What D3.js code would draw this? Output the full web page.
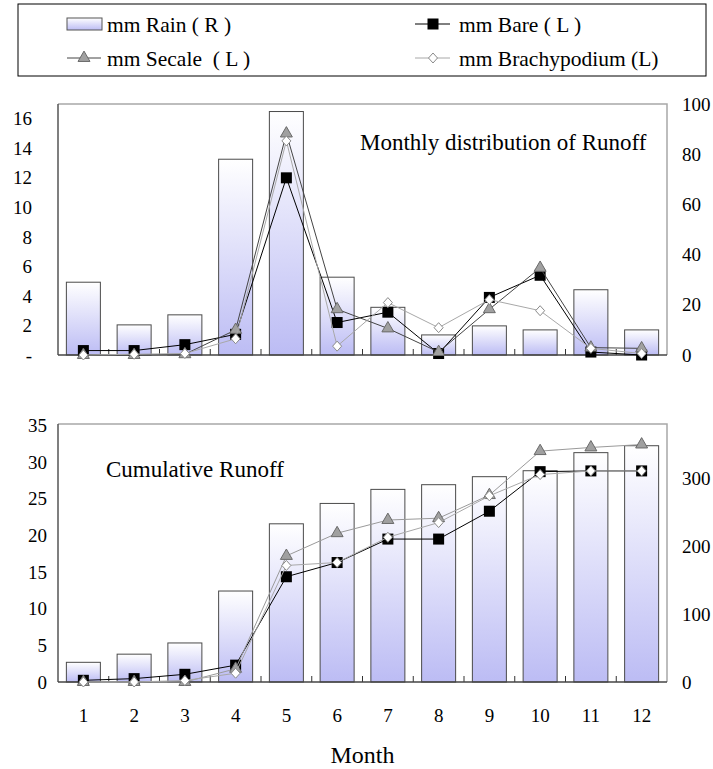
<!DOCTYPE html>
<html>
<head>
<meta charset="utf-8">
<script src="https://cdn.jsdelivr.net/npm/d3@7"></script>
<style>
  html, body { margin: 0; padding: 0; background: #fff; }
  svg { display: block; }
</style>
</head>
<body>
<svg id="chart" width="713" height="769"></svg>
<script>
// ---- data ----
const months = [1, 2, 3, 4, 5, 6, 7, 8, 9, 10, 11, 12];

// monthly values (mm)
const monthlyRain   = [29, 12, 16, 78, 97, 31, 19, 8, 11.6, 10, 26, 10];
const monthlyBare   = [0.3, 0.3, 0.7, 1.4, 12.0, 2.2, 2.9, 0.1, 3.9, 5.4, 0.2, 0.0];
const monthlySecale = [0.0, 0.0, 0.05, 1.7, 15.0, 3.1, 1.8, 0.2, 3.1, 5.9, 0.5, 0.45];
const monthlyBrachy = [0.0, 0.05, 0.1, 1.1, 14.5, 0.6, 3.55, 1.85, 3.75, 3.0, 0.45, 0.1];

// cumulative values (mm)
const cumRain   = [29, 41, 57.5, 134, 233, 263, 283.7, 290.6, 302.4, 311.2, 337.8, 348];
const cumBare   = [0.23, 0.46, 1.05, 2.3, 14.36, 16.3, 19.5, 19.5, 23.3, 28.7, 28.8, 28.8];
const cumSecale = [0, 0, 0, 1.8, 17.2, 20.3, 22.1, 22.35, 25.5, 31.5, 32.0, 32.4];
const cumBrachy = [0, 0, 0.2, 1.2, 15.9, 16.3, 19.75, 21.75, 25.4, 28.3, 28.8, 28.8];

// axis ticks
const topLeftTicks  = [0, 2, 4, 6, 8, 10, 12, 14, 16];
const topRightTicks = [0, 20, 40, 60, 80, 100];
const botLeftTicks  = [0, 5, 10, 15, 20, 25, 30, 35];
const botRightTicks = [0, 100, 200, 300];

// legend labels
const legendLabels = ["mm Rain ( R )", "mm Bare ( L )", "mm Secale\u00a0\u00a0( L )", "mm Brachypodium (L)"];

const FONT = "'Liberation Serif', serif";

// make sure the serif face is resolved before text is laid out
const probe = document.createElement("canvas").getContext("2d");
probe.font = "20px 'Liberation Serif', serif";
probe.measureText("Monthly distribution of Runoff");

const svg = d3.select("#chart");
const defs = svg.append("defs");

const grad = defs.append("linearGradient")
  .attr("id", "rainFill").attr("x1", 0).attr("y1", 0).attr("x2", 0).attr("y2", 1);
grad.append("stop").attr("offset", "0%").attr("stop-color", "#ffffff");
grad.append("stop").attr("offset", "100%").attr("stop-color", "#bcbcf4");

const plotLeft = 58, plotRight = 667;

const x = d3.scaleBand().domain(months).range([plotLeft, plotRight]).paddingInner(0.33).paddingOuter(0.165);
const xc = m => x(m) + x.bandwidth() / 2;

function label(sel) {
  return sel.attr("font-family", FONT).attr("fill", "#000");
}

// ---- marker shapes ----
function drawMarkers(g, xs, ys, kind) {
  if (kind === "square") {
    g.selectAll("rect.mk").data(xs).join("rect").attr("class", "mk")
      .attr("x", (d, i) => xs[i] - 5.5).attr("y", (d, i) => ys[i] - 5.5)
      .attr("width", 11).attr("height", 11).attr("fill", "#000");
  } else if (kind === "triangle") {
    const tri = d3.symbol().type(d3.symbolTriangle).size(62);
    g.selectAll("path.mk").data(xs).join("path").attr("class", "mk")
      .attr("d", tri)
      .attr("transform", (d, i) => `translate(${xs[i]},${ys[i]})`)
      .attr("fill", "#a0a0a0").attr("stroke", "#6a6a6a").attr("stroke-width", 1);
  } else {
    g.selectAll("path.mk").data(xs).join("path").attr("class", "mk")
      .attr("d", "M0,-5L4.5,0L0,5L-4.5,0Z")
      .attr("transform", (d, i) => `translate(${xs[i]},${ys[i]})`)
      .attr("fill", "#fff").attr("stroke", "#8a8a8a").attr("stroke-width", 1);
  }
}

function drawPanel(cfg) {
  const g = svg.append("g");
  const yL = d3.scaleLinear().domain(cfg.leftDomain).range([cfg.bottom, cfg.top]);
  const yR = d3.scaleLinear().domain(cfg.rightDomain).range([cfg.bottom, cfg.top]);

  // plot frame (top and right in light gray)
  g.append("path")
    .attr("d", `M${plotLeft},${cfg.top}H${plotRight}V${cfg.bottom}`)
    .attr("fill", "none").attr("stroke", "#a8a8a8").attr("stroke-width", 1.5);

  // rain bars on right axis
  g.append("g").selectAll("rect").data(months).join("rect")
    .attr("x", m => x(m))
    .attr("y", (m, i) => yR(cfg.rain[i]))
    .attr("width", x.bandwidth())
    .attr("height", (m, i) => cfg.bottom - yR(cfg.rain[i]))
    .attr("fill", "url(#rainFill)")
    .attr("stroke", "#4a4a4a").attr("stroke-width", 1);

  // category boundary ticks on x axis (pointing inward)
  const step = x.step();
  const bounds = d3.range(1, 12).map(k => plotLeft + k * step);
  g.append("g").selectAll("line").data(bounds).join("line")
    .attr("x1", d => d).attr("x2", d => d)
    .attr("y1", cfg.bottom).attr("y2", cfg.bottom - 6)
    .attr("stroke", "#333").attr("stroke-width", 1);

  // axes lines
  g.append("line").attr("x1", plotLeft).attr("x2", plotLeft)
    .attr("y1", cfg.top).attr("y2", cfg.bottom).attr("stroke", "#555").attr("stroke-width", 1.5);
  g.append("line").attr("x1", plotLeft).attr("x2", plotRight)
    .attr("y1", cfg.bottom).attr("y2", cfg.bottom).attr("stroke", "#444").attr("stroke-width", 1.5);

  // left axis labels
  g.append("g").selectAll("text").data(cfg.leftTicks).join("text")
    .call(label)
    .attr("x", cfg.leftLabelX).attr("y", d => yL(d)).attr("dy", "0.35em")
    .attr("text-anchor", "end").attr("font-size", 19)
    .text(d => cfg.leftFormat(d));

  // right axis labels
  g.append("g").selectAll("text").data(cfg.rightTicks).join("text")
    .call(label)
    .attr("x", 682).attr("y", d => yR(d)).attr("dy", "0.35em")
    .attr("text-anchor", "start").attr("font-size", 19)
    .text(d => d);

  // runoff series on left axis
  const xs = months.map(xc);
  const series = [
    { vals: cfg.bare, color: "#000", kind: "square" },
    { vals: cfg.secale, color: cfg.secaleColor, kind: "triangle" },
    { vals: cfg.brachy, color: "#a8a8a8", kind: "diamond" }
  ];
  series.forEach(s => {
    const ys = s.vals.map(v => yL(v));
    const line = d3.line().x((d, i) => xs[i]).y((d, i) => ys[i]);
    const sg = g.append("g");
    sg.append("path").datum(s.vals).attr("d", line)
      .attr("fill", "none").attr("stroke", s.color).attr("stroke-width", 1);
    drawMarkers(sg, xs, ys, s.kind);
  });

  // panel title
  g.append("text").call(label).attr("x", cfg.titleX).attr("y", cfg.titleY)
    .attr("font-size", 23).text(cfg.title);

  return g;
}

// monthly panel
drawPanel({
  top: 104, bottom: 355,
  leftDomain: [0, 17], rightDomain: [0, 100],
  leftTicks: topLeftTicks, rightTicks: topRightTicks,
  leftLabelX: 32, leftFormat: d => d === 0 ? "-" : d,
  rain: monthlyRain, bare: monthlyBare, secale: monthlySecale, brachy: monthlyBrachy,
  secaleColor: "#444",
  title: "Monthly distribution of Runoff", titleX: 360, titleY: 150
});

// cumulative panel
drawPanel({
  top: 424, bottom: 682,
  leftDomain: [0, 35.2], rightDomain: [0, 380],
  leftTicks: botLeftTicks, rightTicks: botRightTicks,
  leftLabelX: 47, leftFormat: d => d,
  rain: cumRain, bare: cumBare, secale: cumSecale, brachy: cumBrachy,
  secaleColor: "#9a9a9a",
  title: "Cumulative Runoff", titleX: 106, titleY: 477
});

// month labels and axis title
svg.append("g").selectAll("text").data(months).join("text")
  .call(label)
  .attr("x", m => xc(m)).attr("y", 722)
  .attr("text-anchor", "middle").attr("font-size", 19)
  .text(m => m);
svg.append("text").call(label).attr("x", (plotLeft + plotRight) / 2).attr("y", 763)
  .attr("text-anchor", "middle").attr("font-size", 24)
  .text("Month");

// ---- legend ----
const lg = svg.append("g");
lg.append("rect").attr("x", 18).attr("y", 4).attr("width", 688).attr("height", 72)
  .attr("fill", "#fff").attr("stroke", "#000").attr("stroke-width", 1);

const row1 = 24, row2 = 58;
// rain swatch
lg.append("rect").attr("x", 67).attr("y", row1 - 6).attr("width", 35).attr("height", 12)
  .attr("fill", "url(#rainFill)").attr("stroke", "#555").attr("stroke-width", 1);
// bare
lg.append("line").attr("x1", 415).attr("x2", 450).attr("y1", row1).attr("y2", row1).attr("stroke", "#000");
drawMarkers(lg.append("g"), [433], [row1], "square");
// secale
lg.append("line").attr("x1", 67).attr("x2", 101).attr("y1", row2).attr("y2", row2).attr("stroke", "#444");
drawMarkers(lg.append("g"), [84], [row2], "triangle");
// brachypodium
lg.append("line").attr("x1", 415).attr("x2", 450).attr("y1", row2).attr("y2", row2).attr("stroke", "#a8a8a8");
drawMarkers(lg.append("g"), [433], [row2], "diamond");

const legendPos = [[107, row1], [459, row1], [107, row2], [459, row2]];
lg.selectAll("text.lbl").data(legendLabels).join("text").attr("class", "lbl")
  .call(label)
  .attr("x", (d, i) => legendPos[i][0]).attr("y", (d, i) => legendPos[i][1])
  .attr("dy", "0.35em").attr("font-size", 21.5)
  .text(d => d);
</script>
</body>
</html>
